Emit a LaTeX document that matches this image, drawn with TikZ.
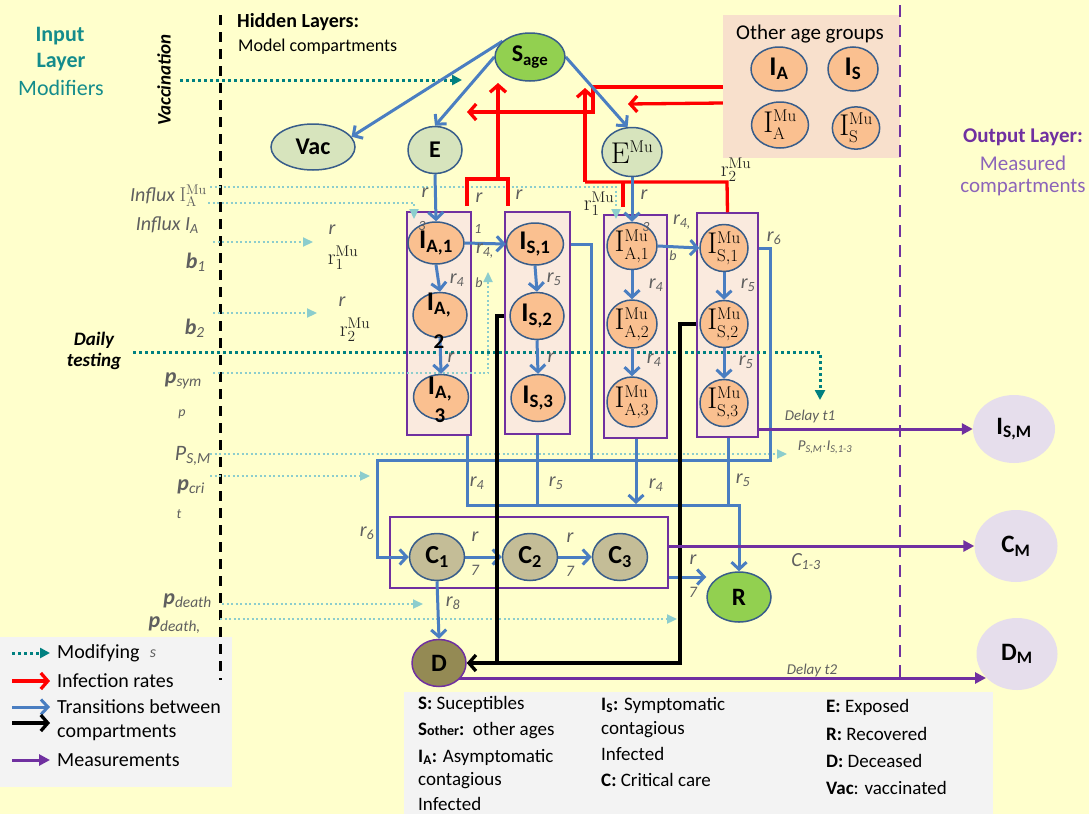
\RequirePackage{fix-cm}
\documentclass[tikz,border=0pt]{standalone}
\usepackage[no-math]{fontspec}
\setmainfont{Carlito}
\usetikzlibrary{arrows.meta,shapes.geometric}
\pgfdeclarelayer{bglayer}
\pgfdeclarelayer{linelayer}
\pgfsetlayers{bglayer,linelayer,main}
\DeclareMathSizes{30}{30}{17}{12}
\definecolor{bgc}{RGB}{255,255,204}
\definecolor{blu}{RGB}{74,126,193}
\definecolor{nbd}{RGB}{56,93,138}
\definecolor{ora}{RGB}{250,192,144}
\definecolor{boxf}{RGB}{250,234,222}
\definecolor{pur}{RGB}{112,48,160}
\definecolor{lpur}{RGB}{140,100,185}
\definecolor{grn}{RGB}{146,208,80}
\definecolor{lgrn}{RGB}{215,228,189}
\definecolor{cfill}{RGB}{196,189,151}
\definecolor{dfill}{RGB}{148,138,84}
\definecolor{outf}{RGB}{230,222,236}
\definecolor{tealA}{RGB}{0,128,128}
\definecolor{tealB}{RGB}{140,205,205}
\definecolor{txtteal}{RGB}{20,140,140}
\definecolor{gtxt}{RGB}{95,95,95}
\definecolor{oag}{RGB}{248,224,204}
\definecolor{lgbox}{RGB}{243,243,243}
\definecolor{redl}{RGB}{255,0,0}
\newcommand{\myfs}[1]{\fontsize{#1}{#1}\selectfont}
\newcommand{\myr}[1]{\textit{r}\textsubscript{\textit{#1}}}
\begin{document}
\begin{tikzpicture}[x=1pt,y=-1pt,
  comp/.style={ellipse,draw=nbd,line width=1.5pt,inner sep=0pt,font=\myfs{24}},
  orn/.style={comp,fill=ora,font=\myfs{27}},
  mun/.style={comp,fill=ora,font=\myfs{30}},
  lgn/.style={comp,fill=lgrn},
  gn/.style={comp,fill=grn},
  cn/.style={comp,fill=cfill,font=\myfs{26}},
  outn/.style={ellipse,fill=outf,inner sep=0pt,font=\myfs{25}},
  cbox/.style={draw=pur,line width=1.5pt,fill=boxf,inner sep=0pt},
  bline/.style={draw=blu,line width=3pt},
  barr/.style={bline,-{Straight Barb[length=7pt,width=15pt]}},
  rline/.style={draw=redl,line width=3.3pt},
  rarr/.style={rline,-{Straight Barb[length=7pt,width=16pt]}},
  kline/.style={draw=black,line width=3.3pt},
  karr/.style={kline,-{Straight Barb[length=7pt,width=16pt]}},
  parr/.style={draw=pur,line width=3pt,-{Triangle[length=11pt,width=11pt]}},
  dmod/.style={draw=tealA,line width=3pt,dash pattern=on 3pt off 3pt,-{Triangle[length=10pt,width=10pt]}},
  lmodn/.style={draw=tealB,line width=2.2pt,dash pattern=on 2pt off 2.5pt},
  lmod/.style={lmodn,-{Triangle[length=10pt,width=9pt]}},
  glab/.style={text=gtxt,font=\myfs{20}\itshape,inner sep=0pt},
  slab/.style={text=gtxt,font=\myfs{14}\itshape,inner sep=0pt},
  llab/.style={text=gtxt,font=\myfs{22}\itshape,inner sep=0pt,anchor=east},
  mlab/.style={text=black!85,font=\myfs{22},inner sep=0pt},
  ttx/.style={font=\myfs{20},inner sep=0pt,anchor=west},
  dtx/.style={font=\myfs{19},inner sep=0pt,anchor=west},
]
\useasboundingbox (0,0) rectangle (1089,814);
\begin{pgfonlayer}{bglayer}
\fill[bgc] (0,0) rectangle (1089,814);
\node[fill=oag,minimum width=177,minimum height=143,inner sep=0] (OB) at (811.5,86.5) {};
\node[fill=lgbox,minimum width=232,minimum height=150,inner sep=0] (LG) at (116,712) {};
\node[fill=lgbox,minimum width=589,minimum height=122,inner sep=0] (DF) at (698.5,753) {};
\draw[black,line width=3pt,dash pattern=on 10pt off 7pt] (220,15) -- (220,680);
\draw[pur,line width=2.5pt,dash pattern=on 12pt off 8pt] (900,5) -- (900,680);
\node[cbox,minimum width=64,minimum height=223] (BA) at (439,323.5) {};
\node[cbox,minimum width=65,minimum height=222] (BS) at (537.5,323) {};
\node[cbox,minimum width=63,minimum height=223] (BAM) at (635.5,326.5) {};
\node[cbox,minimum width=61,minimum height=224] (BSM) at (727.5,325) {};
\node[draw=pur,line width=1.5pt,inner sep=0,minimum width=278,minimum height=71] (BC) at (529,552.5) {};
\end{pgfonlayer}

% compartments
\node[gn,minimum width=70,minimum height=48] (S) at (530,57) {\textbf{S\textsubscript{age}}};
\node[lgn,minimum width=84,minimum height=46] (Vac) at (313,147) {\textbf{Vac}};
\node[lgn,minimum width=54,minimum height=47] (E) at (435,150) {\textbf{E}};
\node[lgn,minimum width=50,minimum height=49,font=\myfs{30}] (EMu) at (632,152) {$\mathrm{E}^{\mathrm{Mu}}$};
\node[orn,minimum width=56,minimum height=44] (OA) at (779,69) {\textbf{I\textsubscript{A}}};
\node[orn,minimum width=50,minimum height=44] (OS) at (853,69) {\textbf{I\textsubscript{S}}};
\node[mun,minimum width=57,minimum height=46] (OAM) at (780,125) {$\mathrm{I}^{\mathrm{Mu}}_{\mathrm{A}}$};
\node[mun,minimum width=46,minimum height=42] (OSM) at (856,128) {$\mathrm{I}^{\mathrm{Mu}}_{\mathrm{S}}$};

\node[orn,minimum width=56,minimum height=42] (IA1) at (436,243) {\textbf{I\textsubscript{A,1}}};
\node[orn,minimum width=54,minimum height=45] (IA2) at (440,315) {};
\node[orn,minimum width=55,minimum height=45] (IA3) at (441,397) {};
\node[orn,minimum width=57,minimum height=42] (IS1) at (535,244) {\textbf{I\textsubscript{S,1}}};
\node[orn,minimum width=54,minimum height=47] (IS2) at (537,316) {\textbf{I\textsubscript{S,2}}};
\node[orn,minimum width=54,minimum height=47] (IS3) at (538,398) {\textbf{I\textsubscript{S,3}}};
\node[mun,minimum width=50,minimum height=47] (IAM1) at (632,246) {$\mathrm{I}^{\mathrm{Mu}}_{\mathrm{A,1}}$};
\node[mun,minimum width=50,minimum height=48] (IAM2) at (632,324) {$\mathrm{I}^{\mathrm{Mu}}_{\mathrm{A,2}}$};
\node[mun,minimum width=50,minimum height=50] (IAM3) at (632,402) {$\mathrm{I}^{\mathrm{Mu}}_{\mathrm{A,3}}$};
\node[mun,minimum width=48,minimum height=44] (ISM1) at (724,248) {$\mathrm{I}^{\mathrm{Mu}}_{\mathrm{S,1}}$};
\node[mun,minimum width=48,minimum height=45] (ISM2) at (724,324) {$\mathrm{I}^{\mathrm{Mu}}_{\mathrm{S,2}}$};
\node[mun,minimum width=48,minimum height=47] (ISM3) at (724,403) {$\mathrm{I}^{\mathrm{Mu}}_{\mathrm{S,3}}$};

\node[cn,minimum width=55,minimum height=47] (C1) at (437,557) {\textbf{C\textsubscript{1}}};
\node[cn,minimum width=55,minimum height=47] (C2) at (530,557) {\textbf{C\textsubscript{2}}};
\node[cn,minimum width=55,minimum height=47] (C3) at (620,557) {\textbf{C\textsubscript{3}}};
\node[gn,minimum width=64,minimum height=50,font=\myfs{25}] (R) at (739,597) {\textbf{R}};
\node[comp,draw=pur,fill=dfill,minimum width=54,minimum height=47,font=\myfs{25}] (D) at (439,663) {\textbf{D}};

\node[outn,minimum width=82,minimum height=68] (ISM) at (1014,429) {\textbf{I\textsubscript{S,M}}};
\node[outn,minimum width=83,minimum height=72] (CM) at (1016,546) {\textbf{C\textsubscript{M}}};
\node[outn,minimum width=81,minimum height=72] (DM) at (1017,654) {\textbf{D\textsubscript{M}}};

% helper coordinates
\coordinate (vacS) at (180,80);   \coordinate (vacE) at (462,80);
\coordinate (dtS) at (133,352);   \coordinate (dtE) at (820,400);
\coordinate (m1s) at (210,187);   \coordinate (m1e) at (616,219);
\coordinate (m2s) at (208,203);   \coordinate (m2e) at (414,219);
\coordinate (m3s) at (213,242);   \coordinate (m3e) at (313,242);
\coordinate (m4s) at (213,313);   \coordinate (m4e) at (317,313);
\coordinate (m5s) at (213,373);   \coordinate (m5e) at (488,272);
\coordinate (m6s) at (210,454);   \coordinate (m6e) at (787,454);
\coordinate (m7s) at (210,476);   \coordinate (m7e) at (370,476);
\coordinate (m8s) at (222,604);   \coordinate (m8e) at (423,604);
\coordinate (m9s) at (220,619);   \coordinate (m9e) at (677,619);
\coordinate (jr) at (739,505);
\coordinate (dmend) at (986,678);

\begin{pgfonlayer}{linelayer}
% modifiers
\draw[dmod] (vacS) -- (vacE);
\draw[dmod] (dtS) -| (dtE);
\draw[lmod] (m1s) -| (m1e);
\draw[lmod] (m2s) -| (m2e);
\draw[lmod] (m3s) -- (m3e);
\draw[lmod] (m4s) -- (m4e);
\draw[lmod] (m5s) -| (m5e);
\draw[lmod] (m6s) -- (m6e);
\draw[lmod] (m7s) -- (m7e);
\draw[lmod] (m8s) -- (m8e);
\draw[lmod] (m9s) -- (m9e);
% infection rates
\draw[rarr] (OB.west |- 0,87) -- (593,87) -- (593,112) -- (467,112);
\draw[rarr] (OB.west |- 0,103) -- (628,104);
\draw[rline] (467,206) -- (467,179) -- (508,179) -- (508,206);
\draw[rarr] (498,179) -- (498,83);
\draw[rline] (623,207) -- (623,182);
\draw[rline] (585,182) -- (727,182) -- (BSM.north);
\draw[rarr] (585,182) -- (585,88);
% transitions
\draw[barr] (S.150) -- (Vac.15);
\draw[barr] (S.west) -- (E.north);
\draw[barr] (S.east) -- (EMu.100);
\draw[barr] (E.south) -- (IA1.north);
\draw[barr] (EMu.south) -- (IAM1.north);
\draw[barr] (IA1.south) -- (IA2.north);
\draw[barr] (IA2.south) -- (IA3.north);
\draw[barr] (IS1.south) -- (IS2.north);
\draw[barr] (IS2.south) -- (IS3.north);
\draw[barr] (IAM1.south) -- (IAM2.north);
\draw[barr] (IAM2.south) -- (IAM3.north);
\draw[barr] (ISM1.south) -- (ISM2.north);
\draw[barr] (ISM2.south) -- (ISM3.north);
\draw[barr] (IA1.east) -- (IS1.west);
\draw[barr] (IAM1.east) -- (ISM1.west);
\draw[barr] (BS.east |- IS1) -| (591,460) -- (377,460) |- (C1.west);
\draw[bline] (BSM.east |- ISM1) -| (770,460) -- (591,460);
\draw[barr] (BA.south -| 467,0) |- (jr) -- (R.north);
\draw[bline] (BS.south -| 537,0) -- (537,505);
\draw[barr] (BAM.south -| 636,0) -- (636,504);
\draw[bline] (BSM.south -| 728,0) -- (728,505);
\draw[barr] (C1.east) -- (C2.west);
\draw[barr] (C2.east) -- (C3.west);
\draw[barr] (BC.east |- 0,577) -- (R.west |- 0,577);
\draw[barr] (C1.south) -- (D.north);
\draw[kline] (BS.west |- IS2) -- (497,316) -- (497,663);
\draw[karr] (BSM.west |- ISM2) -- (680,324) -- (680,663) -- (D.east);
% measurements
\draw[parr] (BSM.east |- ISM) -- (ISM);
\draw[parr] (BC.east |- CM) -- (CM);
\draw[parr] (D.-40 |- dmend) -- (dmend);
% legend arrows
\draw[dmod] (12,653) coordinate (lg1) -- (50,653) coordinate (lg1e);
\draw[rarr] (12,681) coordinate (lg2) -- (50,681) coordinate (lg2e);
\draw[barr] (12,707) coordinate (lg3) -- (50,707) coordinate (lg3e);
\draw[karr] (12,723) coordinate (lg4) -- (50,723) coordinate (lg4e);
\draw[parr] (12,760) coordinate (lg5) -- (50,760) coordinate (lg5e);
\end{pgfonlayer}

% wrapped texts of I_A,2 and I_A,3
\node[font=\myfs{27},inner sep=0] (IA2t) at (439,305) {\textbf{I\textsubscript{A,}}};
\node[font=\myfs{21},inner sep=0] (IA2n) at (439,342) {\textbf{2}};
\node[font=\myfs{27},inner sep=0] (IA3t) at (440,389) {\textbf{I\textsubscript{A,}}};
\node[font=\myfs{21},inner sep=0] (IA3n) at (440,416) {\textbf{3}};

% titles
\node[font=\myfs{22}\bfseries,text=txtteal,inner sep=0] (t1) at (60,36) {Input};
\node[font=\myfs{22}\bfseries,text=txtteal,inner sep=0] (t2) at (61,62) {Layer};
\node[font=\myfs{22},text=txtteal,inner sep=0] (t3) at (61,88) {Modifiers};
\node[rotate=90,font=\myfs{19}\bfseries\itshape,inner sep=0] (vacl) at (164,80) {Vaccination};
\node[font=\myfs{20}\bfseries,inner sep=0,anchor=west] (hl) at (237,22) {Hidden Layers:};
\node[font=\myfs{18},inner sep=0,anchor=west] (hl2) at (238,47) {Model compartments};
\node[font=\myfs{21},inner sep=0] (oagt) at (810,34) {Other age groups};
\node[font=\myfs{21}\bfseries,text=pur,inner sep=0] (ol1) at (1023,137) {Output Layer:};
\node[font=\myfs{21},text=lpur,inner sep=0] (ol2) at (1023,163) {Measured};
\node[font=\myfs{21},text=lpur,inner sep=0] (ol3) at (1023,188) {compartments};
\node[font=\myfs{19}\bfseries\itshape,align=center,inner sep=0] (dtl) at (94,351) {Daily\\[2pt]testing};

% left modifier labels
\node[llab,font=\myfs{20}\itshape] (L1) at (207,196) {Influx $\mathrm{I}^{\mathrm{Mu}}_{\mathrm{A}}$};
\node[llab,font=\myfs{20}\itshape] (L2) at (199,225) {Influx I\textsubscript{A}};
\node[llab] (L3) at (206,262) {\textbf{\textit{b}}\textsubscript{1}};
\node[llab] (L4) at (205,328) {\textbf{\textit{b}}\textsubscript{2}};
\node[llab] (L5) at (202,381) {\textbf{\textit{p}}\textsubscript{sym}};
\node[slab] (L5b) at (182,414) {p};
\node[llab] (L6) at (211,456) {\textit{P}\textsubscript{S,M}};
\node[llab] (L7) at (205,487) {\textbf{\textit{p}}\textsubscript{cri}};
\node[slab] (L7b) at (179,514) {t};
\node[llab] (L8) at (212,601) {\textbf{\textit{p}}\textsubscript{death}};
\node[llab] (L9) at (201,625) {\textbf{\textit{p}}\textsubscript{death,}};
\node[slab,font=\myfs{16}\itshape] (L9b) at (153,654) {s};

% rate labels
\node[glab] (a1) at (332,230) {r};
\node[mlab] (a2) at (343,258) {$\mathrm{r}_1^{\mathrm{Mu}}$};
\node[glab] (a3) at (342,302) {r};
\node[mlab] (a4) at (355,330) {$\mathrm{r}_2^{\mathrm{Mu}}$};
\node[glab] (a5) at (425,193) {r};
\node[glab] (a6) at (479,198) {r};
\node[glab] (a7) at (519,195) {r};
\node[glab] (a8) at (644,195) {r};
\node[mlab] (a9) at (599,204) {$\mathrm{r}_1^{\mathrm{Mu}}$};
\node[mlab] (a10) at (736,170) {$\mathrm{r}_2^{\mathrm{Mu}}$};
\node[slab] (a11) at (422,226) {3};
\node[slab] (a12) at (646,227) {3};
\node[slab] (a13) at (478,229) {1};
\node[glab] (a14) at (485,251) {\myr{4,}};
\node[slab] (a15) at (479,283) {b};
\node[glab] (a16) at (682,222) {\myr{4,}};
\node[slab] (a17) at (673,256) {b};
\node[glab] (b1) at (457,280) {\myr{4}};
\node[glab] (b2) at (451,358) {r};
\node[glab] (b3) at (554,279) {\myr{5}};
\node[glab] (b4) at (551,358) {r};
\node[glab] (b5) at (656,285) {\myr{4}};
\node[glab] (b6) at (654,360) {\myr{4}};
\node[glab] (b7) at (748,285) {\myr{5}};
\node[glab] (b8) at (746,362) {\myr{5}};
\node[glab] (b9) at (774,238) {\myr{6}};
\node[glab] (c1) at (477,483) {\myr{4}};
\node[glab] (c2) at (556,483) {\myr{5}};
\node[glab] (c3) at (656,485) {\myr{4}};
\node[glab] (c4) at (743,480) {\myr{5}};
\node[glab] (c5) at (367,533) {\myr{6}};
\node[glab] (c6) at (475,537) {r};
\node[slab,font=\myfs{16}\itshape] (c7) at (475,570) {7};
\node[glab] (c8) at (570,538) {r};
\node[slab,font=\myfs{16}\itshape] (c9) at (570,571) {7};
\node[glab] (c10) at (693,560) {r};
\node[slab,font=\myfs{16}\itshape] (c11) at (693,592) {7};
\node[glab] (c12) at (453,603) {\myr{8}};
\node[slab,font=\myfs{15}\itshape] (d1) at (810,416) {Delay t1};
\node[slab,font=\myfs{15}\itshape] (d2) at (825,447) {P\textsubscript{S,M}$\cdot$I\textsubscript{S,1-3}};
\node[glab] (d3) at (806,562) {C\textsubscript{1-3}};
\node[slab,font=\myfs{15}\itshape] (d4) at (812,670) {Delay t2};

% legend
\node[ttx] (g1) at (57,653) {Modifying};
\node[ttx] (g2) at (57,681) {Infection rates};
\node[ttx] (g3) at (57,707) {Transitions between};
\node[ttx] (g4) at (57,733) {compartments};
\node[ttx] (g5) at (57,760) {Measurements};

% definitions
\node[dtx] (e1) at (418,704) {\textbf{S:} Suceptibles};
\node[dtx] (e2) at (418,731) {\textbf{S}{\myfs{14}\bfseries other}\textbf{:}\ \ other ages};
\node[dtx] (e3) at (418,757) {\textbf{I\textsubscript{A}:} Asymptomatic};
\node[dtx] (e4) at (418,781) {contagious};
\node[dtx] (e5) at (418,804) {Infected};
\node[dtx] (f1) at (601,705) {\textbf{I\textsubscript{S}:} Symptomatic};
\node[dtx] (f2) at (601,730) {contagious};
\node[dtx] (f3) at (601,754) {Infected};
\node[dtx] (f4) at (601,780) {\textbf{C:} Critical care};
\node[dtx] (h1) at (826,707) {\textbf{E:} Exposed};
\node[dtx] (h2) at (826,734) {\textbf{R:} Recovered};
\node[dtx] (h3) at (826,761) {\textbf{D:} Deceased};
\node[dtx] (h4) at (826,788) {\textbf{Vac}: vaccinated};
\end{tikzpicture}
\end{document}
